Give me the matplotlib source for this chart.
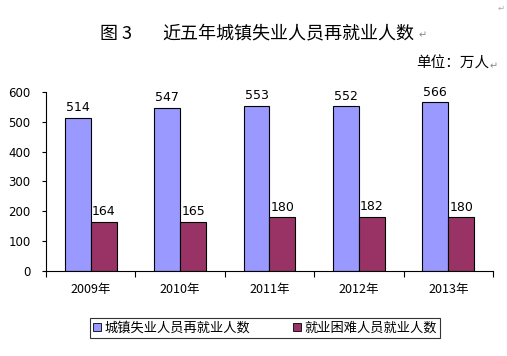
import matplotlib
matplotlib.use("Agg")
import matplotlib.pyplot as plt
import numpy as np
from matplotlib.patches import Patch

plt.rcParams['font.family'] = ['Noto Sans CJK SC', 'DejaVu Sans']

years = ["2009年", "2010年", "2011年", "2012年", "2013年"]
reemployed = [514, 547, 553, 552, 566]
difficult = [164, 165, 180, 182, 180]
series_names = ["城镇失业人员再就业人数", "就业困难人员就业人数"]
yticks = [0, 100, 200, 300, 400, 500, 600]

c1 = "#9999FF"
c2 = "#993366"

fig = plt.figure(figsize=(5.07, 3.56), dpi=100)
ax = fig.add_axes([0.0907, 0.2388, 0.8817, 0.5028])

x = np.arange(len(years))
w = 0.29
b1 = ax.bar(x - w / 2, reemployed, w, color=c1, edgecolor="black", linewidth=0.8)
b2 = ax.bar(x + w / 2, difficult, w, color=c2, edgecolor="black", linewidth=0.8)

for rect, v in zip(list(b1) + list(b2), reemployed + difficult):
    ax.text(rect.get_x() + rect.get_width() / 2, v + 12, str(v),
            ha="center", va="bottom", fontsize=9, family="DejaVu Sans")

ax.set_xlim(-0.5, len(years) - 0.5)
ax.set_ylim(0, 600)
ax.set_yticks(yticks)
ax.set_yticklabels([str(t) for t in yticks], fontsize=8.5, family="DejaVu Sans")
ax.set_xticks(x)
ax.set_xticklabels(years, fontsize=9)
ax.tick_params(axis="x", which="major", length=0, pad=9)
ax.set_xticks(np.arange(-0.5, len(years)), minor=True)
ax.tick_params(axis="x", which="minor", length=4, direction="out", width=0.8)
ax.tick_params(axis="y", length=3, direction="out", width=0.8, pad=8)
for s in ["top", "right"]:
    ax.spines[s].set_visible(False)
for s in ["left", "bottom"]:
    ax.spines[s].set_linewidth(0.8)

fig.text(0.197, 0.905, "图 3", fontsize=13, ha="left", va="center")
fig.text(0.32, 0.905, "近五年城镇失业人员再就业人数", fontsize=13, ha="left", va="center")
fig.text(0.826, 0.9, "↵", fontsize=7, color="#888888", ha="left", va="center", family="DejaVu Sans")
fig.text(0.965, 0.82, "单位：万人", fontsize=10.5, ha="right", va="center")
fig.text(0.966, 0.815, "↵", fontsize=7, color="#888888", ha="left", va="center", family="DejaVu Sans")
fig.text(0.995, 0.99, "↵", fontsize=6, color="#aaaaaa", ha="right", va="top", family="DejaVu Sans")

handles = [Patch(facecolor=c1, edgecolor="black", linewidth=0.6),
           Patch(facecolor=c2, edgecolor="black", linewidth=0.6)]
leg = fig.legend(handles, series_names, loc="center", bbox_to_anchor=(0.5227, 0.0787),
                 ncol=2, fontsize=9.5, frameon=True, fancybox=False, edgecolor="black",
                 handlelength=0.6, handleheight=0.6, handletextpad=0.3, columnspacing=3.2,
                 borderpad=0.25, borderaxespad=0)
leg.get_frame().set_linewidth(0.8)

fig.savefig("out.png", dpi=100)
